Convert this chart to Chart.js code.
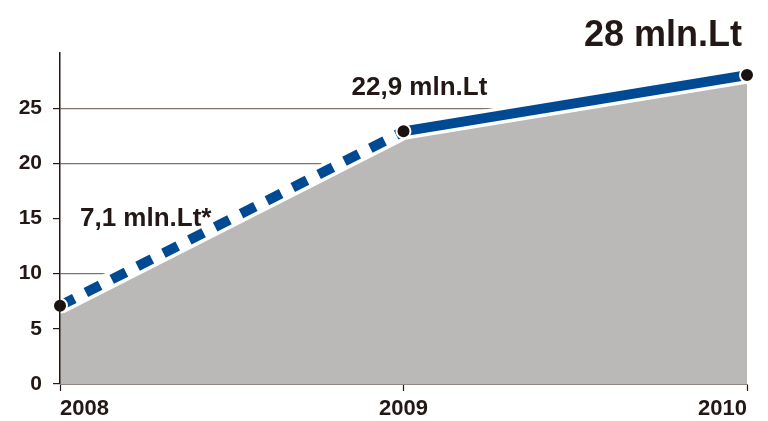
<!DOCTYPE html>
<html>
<head>
<meta charset="utf-8">
<script src="https://cdn.jsdelivr.net/npm/chart.js@4"></script>
<style>
  html, body { margin: 0; padding: 0; background: #ffffff; }
  #wrap { width: 768px; height: 421px; position: relative; }
</style>
</head>
<body>
<div id="wrap"><canvas id="c"></canvas></div>
<script>
const years = ['2008', '2009', '2010'];
const revenue = [7.1, 22.9, 28];
const valueLabels = ['7,1 mln.Lt*', '22,9 mln.Lt', '28 mln.Lt'];
const yTickValues = [0, 5, 10, 15, 20, 25];
const yMax = 30;

const textColor = '#231815';
const lineBlue = '#004a93';
const areaGray = '#bab9b8';
const gridColor = '#7d746e';

const labelPlugin = {
  id: 'valueLabels',
  afterDatasetsDraw(chart) {
    const ctx = chart.ctx;
    const xs = chart.scales.x, ys = chart.scales.y;
    const specs = [
      { dx: 20, dy: -80, align: 'left', size: 26 },
      { dx: -52, dy: -36, align: 'left', size: 26 },
      { dx: -5, dy: -29, align: 'right', size: 36 }
    ];
    ctx.save();
    ctx.fillStyle = textColor;
    ctx.textBaseline = 'alphabetic';
    revenue.forEach((v, i) => {
      const s = specs[i];
      const px = xs.getPixelForValue(i);
      const py = ys.getPixelForValue(v);
      ctx.font = 'bold ' + s.size + 'px "Liberation Sans", Arial, sans-serif';
      ctx.textAlign = s.align;
      ctx.fillText(valueLabels[i], px + s.dx, py + s.dy);
    });
    ctx.restore();
  }
};

new Chart(document.getElementById('c'), {
  type: 'line',
  data: {
    labels: years,
    datasets: [
      {
        label: 'line',
        data: revenue,
        order: 1,
        borderColor: lineBlue,
        borderWidth: 10,
        borderCapStyle: 'butt',
        fill: false,
        tension: 0,
        clip: 20,
        segment: {
          borderDash: ctx => ctx.p0DataIndex === 0 ? [16, 13] : []
        },
        pointRadius: 7,
        pointBackgroundColor: '#1a1210',
        pointBorderColor: '#ffffff',
        pointBorderWidth: 2
      },
      {
        label: 'halo',
        data: revenue,
        order: 2,
        borderColor: '#ffffff',
        borderWidth: 17,
        borderCapStyle: 'butt',
        fill: false,
        tension: 0,
        pointRadius: 0
      },
      {
        label: 'area',
        data: revenue,
        order: 3,
        borderWidth: 0,
        borderColor: 'rgba(0,0,0,0)',
        backgroundColor: areaGray,
        fill: 'origin',
        tension: 0,
        pointRadius: 0
      }
    ]
  },
  options: {
    responsive: true,
    maintainAspectRatio: false,
    animation: false,
    events: [],
    layout: { padding: { left: 0, right: 21, top: 53, bottom: 0 } },
    plugins: {
      legend: { display: false },
      tooltip: { enabled: false },
      title: { display: false }
    },
    scales: {
      x: {
        type: 'category',
        offset: false,
        afterFit: s => { s.height = 37; },
        grid: {
          drawOnChartArea: false,
          drawTicks: true,
          tickLength: 7,
          tickColor: textColor,
          tickWidth: 1.2
        },
        border: { display: true, color: '#8d8580', width: 1, z: 1 },
        ticks: {
          align: 'inner',
          padding: 5,
          color: textColor,
          maxRotation: 0,
          font: { family: '"Liberation Sans", Arial, sans-serif', size: 22, weight: 'bold' }
        }
      },
      y: {
        min: 0,
        max: yMax,
        afterFit: s => { s.width = 60; },
        afterBuildTicks: s => { s.ticks = yTickValues.concat([yMax]).map(v => ({ value: v })); },
        grid: {
          color: c => (c.tick && (c.tick.value === 15 || c.tick.value === yMax || c.tick.value === 0)) ? 'rgba(0,0,0,0)' : gridColor,
          lineWidth: 1.2,
          tickLength: 7,
          tickColor: c => (c.tick && c.tick.value === yMax) ? 'rgba(0,0,0,0)' : textColor,
          tickWidth: 1.2
        },
        border: { display: true, color: textColor, width: 1.5, z: 1 },
        ticks: {
          padding: 11,
          color: textColor,
          callback: v => (v === yMax ? '' : String(v)),
          font: { family: '"Liberation Sans", Arial, sans-serif', size: 21, weight: 'bold' }
        }
      }
    }
  },
  plugins: [labelPlugin]
});
</script>
</body>
</html>
